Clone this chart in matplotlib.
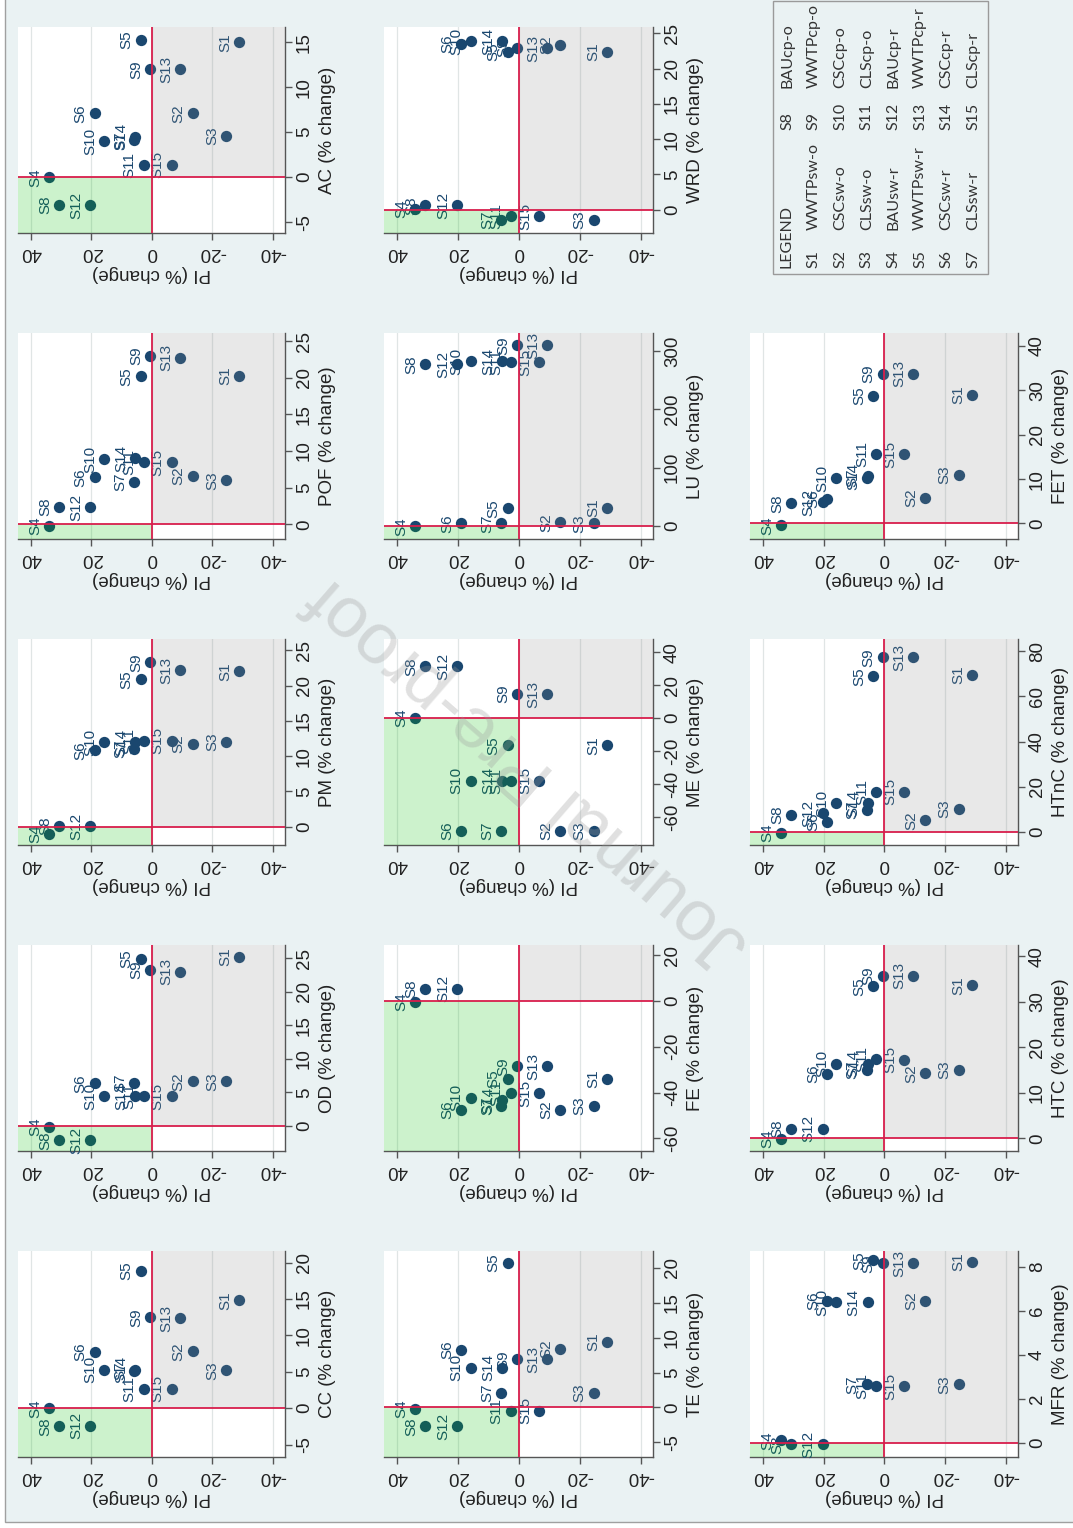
import matplotlib.pyplot as plt
from matplotlib.patches import Rectangle

# scenario labels and the PI change shared by all panels
scenarios = ["S1", "S2", "S3", "S4", "S5", "S6", "S7", "S8",
             "S9", "S10", "S11", "S12", "S13", "S14", "S15"]
pi = [-28.9, -13.5, -24.5, 34.0, 3.7, 18.9, 5.8, 30.7,
      0.5, 15.8, 2.7, 20.3, -9.4, 5.5, -6.6]

# indicator changes (%), same scenario order
cc = [14.8, 7.8, 5.2, 0.0, 18.9, 7.7, 5.1, -2.5, 12.5, 5.3, 2.7, -2.4, 12.4, 5.3, 2.7]
od = [25.25, 6.65, 6.65, -0.1, 24.9, 6.35, 6.4, -2.15, 23.25, 4.4, 4.4, -2.15, 23.0, 4.4, 4.4]
pm = [22.0, 11.7, 12.0, -1.0, 20.9, 10.8, 11.0, 0.1, 23.3, 12.0, 12.2, 0.1, 22.2, 12.0, 12.2]
pof = [20.3, 6.6, 6.0, -0.2, 20.2, 6.4, 5.8, 2.4, 23.0, 8.9, 8.5, 2.3, 22.7, 9.0, 8.5]
ac = [15.0, 7.1, 4.6, 0.0, 15.3, 7.1, 4.1, -3.1, 12.0, 4.0, 1.4, -3.1, 12.0, 4.5, 1.4]
te = [9.4, 8.35, 2.1, -0.2, 20.7, 8.2, 2.1, -2.7, 6.9, 5.7, -0.5, -2.7, 6.9, 5.7, -0.5]
fe = [-34.1, -47.6, -45.9, -0.3, -34.1, -47.6, -45.9, 5.4, -28.5, -42.3, -40.2, 5.4, -28.5, -43.4, -40.2]
me = [-16.6, -68.6, -68.6, 0.0, -16.6, -68.6, -68.6, 31.4, 14.6, -38.0, -38.0, 31.4, 14.6, -38.0, -38.0]
lu = [31.3, 5.7, 4.0, -1.0, 30.1, 4.0, 4.0, 277, 309.7, 283, 281, 277, 309.7, 283, 281]
wrd = [22.4, 23.4, -1.4, 0.1, 22.4, 23.5, -1.4, 0.6, 22.9, 23.9, -0.9, 0.6, 22.9, 23.9, -0.9]
mfr = [8.24, 6.45, 2.67, 0.12, 8.3, 6.45, 2.67, -0.05, 8.17, 6.4, 2.58, -0.05, 8.17, 6.4, 2.58]
htc = [33.6, 14.3, 15.1, -0.2, 33.4, 14.2, 15.1, 2.1, 35.7, 16.4, 17.4, 2.1, 35.7, 16.4, 17.3]
htnc = [69.5, 5.1, 10.1, -0.4, 68.8, 4.5, 9.6, 7.4, 77.3, 12.8, 17.7, 8.3, 77.3, 12.8, 17.7]
fet = [29.0, 5.7, 10.9, -0.4, 28.7, 5.5, 10.3, 4.5, 33.7, 10.2, 15.6, 4.8, 33.7, 10.6, 15.6]

pi_ticks = [40, 20, 0, -20, -40]

legend_names = ["WWTPsw-o", "CSCsw-o", "CLSsw-o", "BAUsw-r", "WWTPsw-r", "CSCsw-r", "CLSsw-r",
                "BAUcp-o", "WWTPcp-o", "CSCcp-o", "CLScp-o", "BAUcp-r", "WWTPcp-r", "CSCcp-r", "CLScp-r"]

W, H = 1073, 1528
navy = '#1a476f'
red = '#d81e4c'
bg = '#eaf2f3'

plt.rcParams['font.family'] = ['Liberation Sans', 'DejaVu Sans']


def frac(x0, y0, x1, y1):
    return [x0 / W, 1 - y1 / H, (x1 - x0) / W, (y1 - y0) / H]


def panel(rect, vals, name, ylim, yticks):
    ax = fig.add_axes(frac(*rect))
    ax.set_facecolor('white')
    for g in pi_ticks:
        ax.axvline(g, color='#e0e5e5', lw=0.9, zorder=0)
    ax.scatter(pi, vals, s=66, color=navy, linewidths=0, zorder=2)
    for s, x, y in zip(scenarios, pi, vals):
        ax.annotate(s, (x, y), xytext=(-5, 0), textcoords='offset points',
                    rotation=90, ha='right', va='center', fontsize=11,
                    color=navy, zorder=3)
    # better / worse quadrants, laid over the points
    ax.add_patch(Rectangle((0, -1e4), 100, 1e4, facecolor='#00c000', alpha=0.2,
                           lw=0, zorder=4))
    ax.add_patch(Rectangle((-100, 0), 100, 1e4, facecolor='#8c8c8c', alpha=0.2,
                           lw=0, zorder=4))
    ax.axvline(0, color=red, lw=1.3, zorder=5)
    ax.axhline(0, color=red, lw=1.3, zorder=5)

    ax.set_xticks(pi_ticks, [str(t) for t in pi_ticks], rotation=180)
    ax.yaxis.tick_right()
    ax.set_yticks(yticks, [str(t) for t in yticks], rotation=90, va='center')
    ax.tick_params(length=5, width=1, color='#555555', labelsize=13.5,
                   labelcolor='#222222', pad=3)
    ax.set_xlabel('PI (% change)', rotation=180, fontsize=13.5, labelpad=3,
                  color='#222222')
    ax.yaxis.set_label_position('right')
    ax.set_ylabel(name + ' (% change)', fontsize=13.5, labelpad=4, color='#222222')
    for side in ['top', 'left']:
        ax.spines[side].set_visible(False)
    for side in ['bottom', 'right']:
        ax.spines[side].set_color('#555555')
        ax.spines[side].set_linewidth(1)
    ax.set_xlim(44.2, -44)
    ax.set_ylim(*ylim)
    return ax


fig = plt.figure(figsize=(W / 100, H / 100), dpi=100)
fig.patch.set_facecolor('white')

# page background with its thin frame
bax = fig.add_axes([0, 0, 1, 1], zorder=-10)
bax.set_xlim(0, W)
bax.set_ylim(H, 0)
bax.axis('off')
bax.add_patch(Rectangle((5, -5), W + 10, 1527, facecolor=bg, edgecolor='#a0a0a0', lw=1))

cols = [(18, 285), (384, 653), (750, 1018)]


def cell(c, r):
    top = 27 + 306 * r
    return (cols[c][0], top, cols[c][1], top + 206)


panel(cell(0, 0), ac, 'AC', (-6.2, 16.7), [-5, 0, 5, 10, 15])
panel(cell(0, 1), pof, 'POF', (-2.0, 26.1), [0, 5, 10, 15, 20, 25])
panel(cell(0, 2), pm, 'PM', (-2.6, 26.6), [0, 5, 10, 15, 20, 25])
panel(cell(0, 3), od, 'OD', (-3.75, 27), [0, 5, 10, 15, 20, 25])
panel(cell(0, 4), cc, 'CC', (-6.7, 21.6), [-5, 0, 5, 10, 15, 20])

panel(cell(1, 0), wrd, 'WRD', (-3.3, 25.9), [0, 5, 10, 15, 20, 25])
panel(cell(1, 1), lu, 'LU', (-22.7, 331), [0, 100, 200, 300])
panel(cell(1, 2), me, 'ME', (-77, 48), [-60, -40, -20, 0, 20, 40])
panel(cell(1, 3), fe, 'FE', (-65.5, 24.4), [-60, -40, -20, 0, 20])
panel(cell(1, 4), te, 'TE', (-7.1, 22.4), [-5, 0, 5, 10, 15, 20])

panel(cell(2, 1), fet, 'FET', (-3.5, 42.9), [0, 10, 20, 30, 40])
panel(cell(2, 2), htnc, 'HTnC', (-5.8, 85.4), [0, 20, 40, 60, 80])
panel(cell(2, 3), htc, 'HTC', (-2.8, 42.5), [0, 10, 20, 30, 40])
panel(cell(2, 4), mfr, 'MFR', (-0.63, 8.73), [0, 2, 4, 6, 8])

# legend table (turned with the page)
bax.add_patch(Rectangle((773, 1), 215, 273, facecolor='none', edgecolor='#9a9a9a', lw=1))
lfont = ['Lato', 'DejaVu Sans']
left_col = ['LEGEND'] + scenarios[:7]
left_name = [''] + legend_names[:7]
for k in range(8):
    x = 787 + 26.6 * k
    j = k + 7
    for txt, y in [(left_col[k], 268), (left_name[k], 230),
                   (scenarios[j], 130), (legend_names[j], 88)]:
        if txt:
            bax.text(x, y, txt, rotation=90, rotation_mode='anchor', ha='left',
                     va='center', fontsize=11.5, family=lfont, color='#333333')

# watermark
fig.text(528 / W, 1 - 772 / H, 'Journal Pre-proof', rotation=139, ha='center',
         va='center', fontsize=52, color='#9a9a9a', alpha=0.3, zorder=20)

fig.savefig('out.png', dpi=100, facecolor=fig.get_facecolor())
